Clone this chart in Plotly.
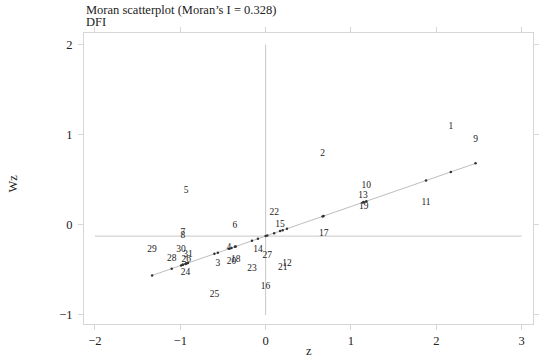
import plotly.graph_objects as go
import numpy as np

obs_ids = [str(i) for i in range(1, 32)]
z_vals = [2.17, 0.667, -0.56, -0.43, -0.93, -0.36, -0.97, -0.97, 2.46, 1.18,
          1.88, 0.25, 1.14, -0.09, 0.17, 0.00, 0.68, -0.35, 1.15, -0.40,
          0.20, 0.10, -0.16, -0.94, -0.60, -0.93, 0.02, -1.10, -1.33, -0.99,
          -0.91]
wz_vals = [1.085, 0.79, -0.43, -0.255, 0.38, -0.01, -0.086, -0.123, 0.94, 0.43,
           0.25, -0.435, 0.325, -0.28, 0.00, -0.69, -0.10, -0.39, 0.20, -0.405,
           -0.48, 0.135, -0.49, -0.53, -0.77, -0.39, -0.34, -0.38, -0.27, -0.28,
           -0.33]
morans_i = 0.328
wz_mean = -0.125
x_ticks = [-2, -1, 0, 1, 2, 3]
y_ticks = [-1, 0, 1, 2]

z = np.array(z_vals)
fitted = wz_mean + morans_i * z
order = np.argsort(z)

font_family = "'Liberation Serif', 'Times New Roman', Times, serif"
grey_line = "#c8c8c8"
frame = "#d6d6d6"
txt = "#222222"

fig = go.Figure()
# reference lines
fig.add_trace(go.Scatter(x=[x_ticks[0], x_ticks[-1]], y=[wz_mean, wz_mean], mode="lines",
                         line=dict(color=grey_line, width=1), hoverinfo="skip"))
fig.add_trace(go.Scatter(x=[0, 0], y=[y_ticks[0], y_ticks[-1]], mode="lines",
                         line=dict(color=grey_line, width=1), hoverinfo="skip"))
# regression line with fitted dots
fig.add_trace(go.Scatter(x=z[order], y=fitted[order], mode="lines+markers",
                         line=dict(color="#bdbdbd", width=1),
                         marker=dict(color="#333333", size=2.5)))
# labels
fig.add_trace(go.Scatter(x=z_vals, y=wz_vals, mode="text", text=obs_ids,
                         textposition="middle center",
                         textfont=dict(family=font_family, size=9.5, color=txt)))

axis_common = dict(showgrid=False, zeroline=False, showline=True, linecolor=frame,
                   linewidth=1, mirror="ticks", ticks="outside", ticklen=5,
                   tickcolor=frame, tickfont=dict(family=font_family, size=12.5, color=txt))
fig.update_xaxes(range=[-2.128, 3.133], tickvals=x_ticks,
                 ticktext=[str(t).replace("-", "\u2212") for t in x_ticks], **axis_common)
fig.update_yaxes(range=[-1.10, 2.128], tickvals=y_ticks, ticklabelstandoff=3,
                 ticktext=[str(t).replace("-", "\u2212") for t in y_ticks], **axis_common)

fig.update_layout(
    width=550, height=359, showlegend=False,
    margin=dict(l=84, r=11, t=33, b=32),
    paper_bgcolor="white", plot_bgcolor="white",
    font=dict(family=font_family, color=txt),
    annotations=[
        dict(text="Moran scatterplot (Moran\u2019s I = 0.328)", xref="paper", yref="paper",
             x=0, y=1.078, xanchor="left", yanchor="middle", showarrow=False,
             font=dict(family=font_family, size=12.5, color=txt)),
        dict(text="DFI", xref="paper", yref="paper",
             x=0, y=1.037, xanchor="left", yanchor="middle", showarrow=False,
             font=dict(family=font_family, size=12.5, color=txt)),
        dict(text="z", xref="paper", yref="paper", x=0.5, y=-0.092,
             xanchor="center", yanchor="middle", showarrow=False,
             font=dict(family=font_family, size=12.5, color=txt)),
        dict(text="Wz", xref="paper", yref="paper", x=-0.158, y=0.483, textangle=-90,
             xanchor="center", yanchor="middle", showarrow=False,
             font=dict(family=font_family, size=12.5, color=txt)),
    ],
)

fig.write_html("out.html", config={"displayModeBar": False},
               post_script="document.body.style.margin='0';")
